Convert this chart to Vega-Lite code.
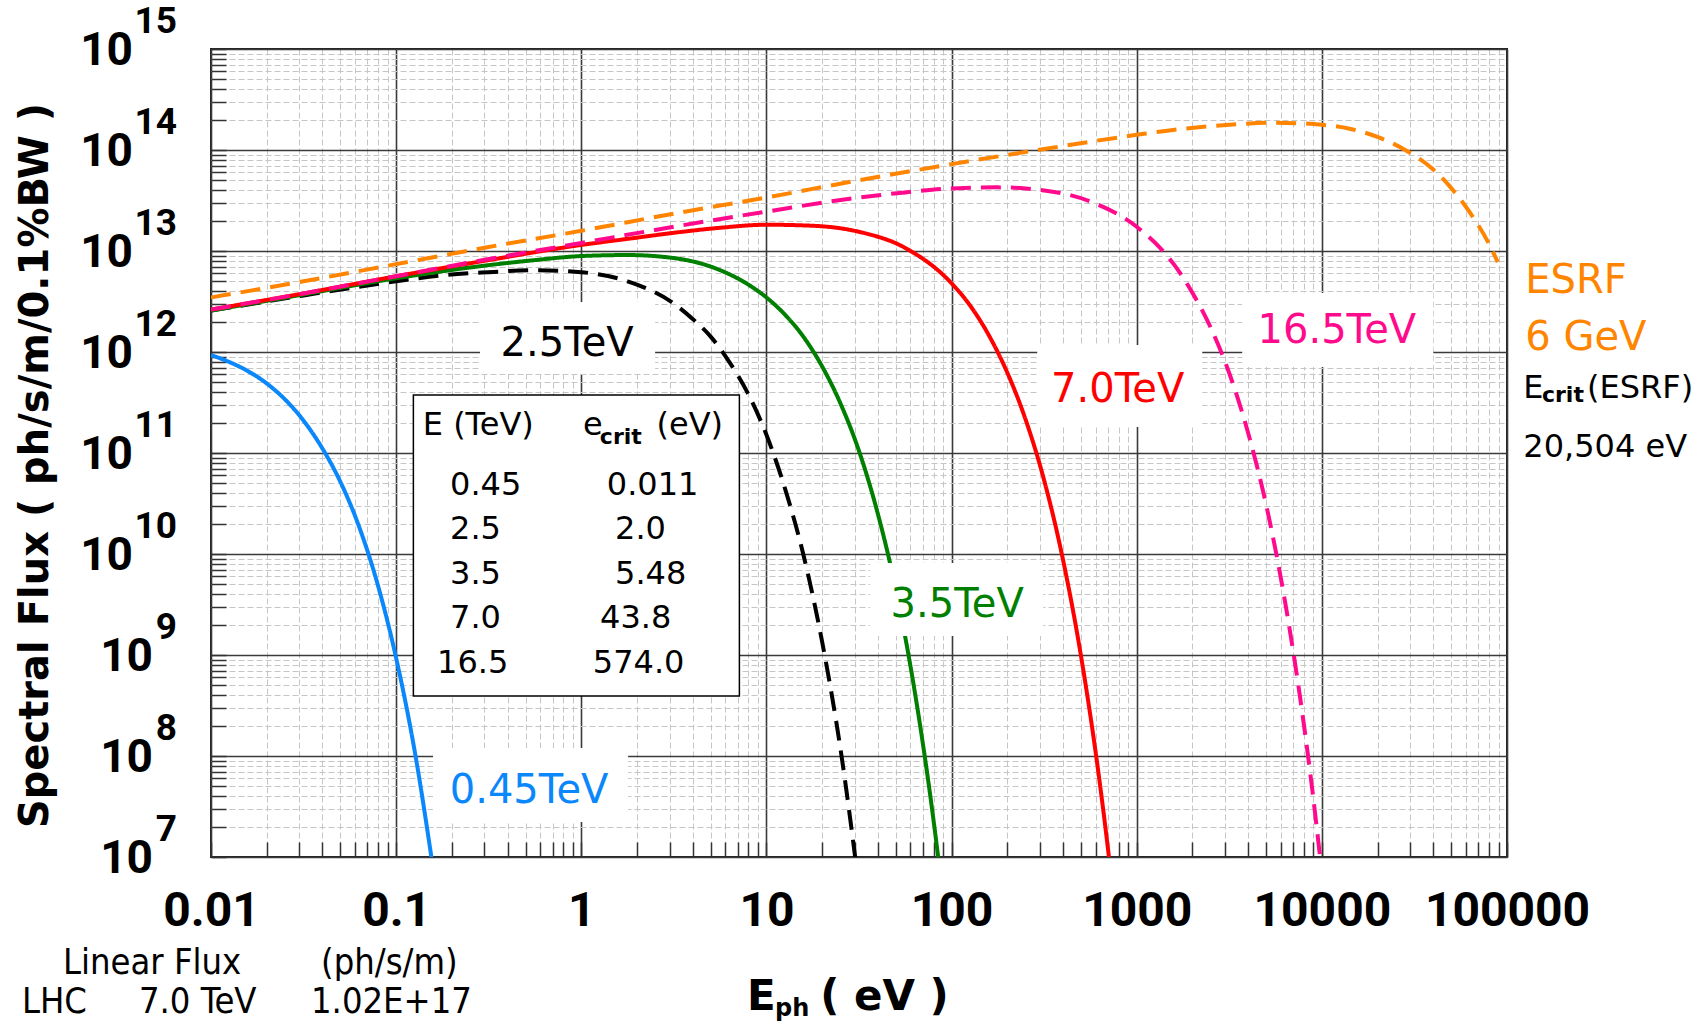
{
  "$schema": "https://vega.github.io/schema/vega-lite/v6.json",
  "width": 1296,
  "height": 808,
  "autosize": {"type": "none"},
  "padding": {"left": 211, "top": 49, "right": 195, "bottom": 166},
  "background": "white",
  "config": {"view": {"stroke": "#222", "strokeWidth": 2}},
  "datasets": {
    "curves": [
      {"series": "2.5TeV", "E": 0.01, "F": 2.57e12},
      {"series": "2.5TeV", "E": 0.03162, "F": 3.631e12},
      {"series": "2.5TeV", "E": 0.1, "F": 5.012e12},
      {"series": "2.5TeV", "E": 0.1778, "F": 5.754e12},
      {"series": "2.5TeV", "E": 0.3162, "F": 6.166e12},
      {"series": "2.5TeV", "E": 0.5623, "F": 6.457e12},
      {"series": "2.5TeV", "E": 1, "F": 6.166e12},
      {"series": "2.5TeV", "E": 1.778, "F": 5.012e12},
      {"series": "2.5TeV", "E": 3.162, "F": 3.02e12},
      {"series": "2.5TeV", "E": 3.981, "F": 2.138e12},
      {"series": "2.5TeV", "E": 5.012, "F": 1.413e12},
      {"series": "2.5TeV", "E": 6.31, "F": 7.943e11},
      {"series": "2.5TeV", "E": 7.943, "F": 3.89e11},
      {"series": "2.5TeV", "E": 10, "F": 1.514e11},
      {"series": "2.5TeV", "E": 12.59, "F": 4.467e10},
      {"series": "2.5TeV", "E": 15.85, "F": 9.772e9},
      {"series": "2.5TeV", "E": 19.95, "F": 1.38e9},
      {"series": "2.5TeV", "E": 25.12, "F": 1.175e8},
      {"series": "2.5TeV", "E": 31.62, "F": 5.012e6},

      {"series": "3.5TeV", "E": 0.01, "F": 2.57e12},
      {"series": "3.5TeV", "E": 0.03162, "F": 3.715e12},
      {"series": "3.5TeV", "E": 0.1, "F": 5.37e12},
      {"series": "3.5TeV", "E": 0.3162, "F": 7.244e12},
      {"series": "3.5TeV", "E": 0.5623, "F": 8.128e12},
      {"series": "3.5TeV", "E": 1, "F": 8.913e12},
      {"series": "3.5TeV", "E": 1.778, "F": 9.12e12},
      {"series": "3.5TeV", "E": 3.162, "F": 8.511e12},
      {"series": "3.5TeV", "E": 5.623, "F": 6.457e12},
      {"series": "3.5TeV", "E": 7.943, "F": 4.677e12},
      {"series": "3.5TeV", "E": 10, "F": 3.467e12},
      {"series": "3.5TeV", "E": 12.59, "F": 2.344e12},
      {"series": "3.5TeV", "E": 15.85, "F": 1.413e12},
      {"series": "3.5TeV", "E": 19.95, "F": 7.244e11},
      {"series": "3.5TeV", "E": 25.12, "F": 3.09e11},
      {"series": "3.5TeV", "E": 31.62, "F": 1.047e11},
      {"series": "3.5TeV", "E": 39.81, "F": 2.57e10},
      {"series": "3.5TeV", "E": 50.12, "F": 4.365e9},
      {"series": "3.5TeV", "E": 63.1, "F": 4.467e8},
      {"series": "3.5TeV", "E": 79.43, "F": 2.512e7},
      {"series": "3.5TeV", "E": 89.13, "F": 4.571e6},

      {"series": "7.0TeV", "E": 0.01, "F": 2.63e12},
      {"series": "7.0TeV", "E": 0.03162, "F": 3.802e12},
      {"series": "7.0TeV", "E": 0.1, "F": 5.623e12},
      {"series": "7.0TeV", "E": 0.3162, "F": 8.128e12},
      {"series": "7.0TeV", "E": 1, "F": 1.148e13},
      {"series": "7.0TeV", "E": 1.778, "F": 1.318e13},
      {"series": "7.0TeV", "E": 3.162, "F": 1.514e13},
      {"series": "7.0TeV", "E": 5.623, "F": 1.698e13},
      {"series": "7.0TeV", "E": 10, "F": 1.82e13},
      {"series": "7.0TeV", "E": 17.78, "F": 1.778e13},
      {"series": "7.0TeV", "E": 31.62, "F": 1.549e13},
      {"series": "7.0TeV", "E": 56.23, "F": 1.072e13},
      {"series": "7.0TeV", "E": 100, "F": 4.786e12},
      {"series": "7.0TeV", "E": 125.9, "F": 2.884e12},
      {"series": "7.0TeV", "E": 158.5, "F": 1.479e12},
      {"series": "7.0TeV", "E": 199.5, "F": 6.31e11},
      {"series": "7.0TeV", "E": 251.2, "F": 2.138e11},
      {"series": "7.0TeV", "E": 316.2, "F": 5.37e10},
      {"series": "7.0TeV", "E": 398.1, "F": 9.12e9},
      {"series": "7.0TeV", "E": 501.2, "F": 9.55e8},
      {"series": "7.0TeV", "E": 631, "F": 5.495e7},
      {"series": "7.0TeV", "E": 707.9, "F": 1.0e7},
      {"series": "7.0TeV", "E": 794.3, "F": 1.479e6},

      {"series": "16.5TeV", "E": 0.01, "F": 2.63e12},
      {"series": "16.5TeV", "E": 0.03162, "F": 3.802e12},
      {"series": "16.5TeV", "E": 0.1, "F": 5.623e12},
      {"series": "16.5TeV", "E": 0.3162, "F": 8.318e12},
      {"series": "16.5TeV", "E": 1, "F": 1.202e13},
      {"series": "16.5TeV", "E": 3.162, "F": 1.738e13},
      {"series": "16.5TeV", "E": 10, "F": 2.455e13},
      {"series": "16.5TeV", "E": 31.62, "F": 3.388e13},
      {"series": "16.5TeV", "E": 56.23, "F": 3.802e13},
      {"series": "16.5TeV", "E": 100, "F": 4.169e13},
      {"series": "16.5TeV", "E": 177.8, "F": 4.266e13},
      {"series": "16.5TeV", "E": 316.2, "F": 3.981e13},
      {"series": "16.5TeV", "E": 562.3, "F": 3.09e13},
      {"series": "16.5TeV", "E": 1000, "F": 1.738e13},
      {"series": "16.5TeV", "E": 1259, "F": 1.202e13},
      {"series": "16.5TeV", "E": 1585, "F": 7.413e12},
      {"series": "16.5TeV", "E": 1995, "F": 3.89e12},
      {"series": "16.5TeV", "E": 2512, "F": 1.738e12},
      {"series": "16.5TeV", "E": 3162, "F": 6.166e11},
      {"series": "16.5TeV", "E": 3981, "F": 1.622e11},
      {"series": "16.5TeV", "E": 5012, "F": 3.02e10},
      {"series": "16.5TeV", "E": 6310, "F": 3.467e9},
      {"series": "16.5TeV", "E": 7943, "F": 2.239e8},
      {"series": "16.5TeV", "E": 8913, "F": 4.365e7},
      {"series": "16.5TeV", "E": 10000, "F": 6.918e6},

      {"series": "0.45TeV", "E": 0.01, "F": 9.333e11},
      {"series": "0.45TeV", "E": 0.01259, "F": 7.943e11},
      {"series": "0.45TeV", "E": 0.01585, "F": 6.457e11},
      {"series": "0.45TeV", "E": 0.01995, "F": 4.898e11},
      {"series": "0.45TeV", "E": 0.02512, "F": 3.388e11},
      {"series": "0.45TeV", "E": 0.03162, "F": 2.089e11},
      {"series": "0.45TeV", "E": 0.03981, "F": 1.122e11},
      {"series": "0.45TeV", "E": 0.05012, "F": 5.129e10},
      {"series": "0.45TeV", "E": 0.0631, "F": 1.862e10},
      {"series": "0.45TeV", "E": 0.07943, "F": 5.012e9},
      {"series": "0.45TeV", "E": 0.1, "F": 9.333e8},
      {"series": "0.45TeV", "E": 0.1259, "F": 1.122e8},
      {"series": "0.45TeV", "E": 0.1585, "F": 7.586e6},

      {"series": "ESRF", "E": 0.01, "F": 3.467e12},
      {"series": "ESRF", "E": 0.03162, "F": 5.012e12},
      {"series": "ESRF", "E": 0.1, "F": 7.413e12},
      {"series": "ESRF", "E": 0.3162, "F": 1.096e13},
      {"series": "ESRF", "E": 1, "F": 1.585e13},
      {"series": "ESRF", "E": 3.162, "F": 2.344e13},
      {"series": "ESRF", "E": 10, "F": 3.388e13},
      {"series": "ESRF", "E": 31.62, "F": 5.012e13},
      {"series": "ESRF", "E": 100, "F": 7.244e13},
      {"series": "ESRF", "E": 316.2, "F": 1.023e14},
      {"series": "ESRF", "E": 1000, "F": 1.413e14},
      {"series": "ESRF", "E": 1778, "F": 1.622e14},
      {"series": "ESRF", "E": 3162, "F": 1.778e14},
      {"series": "ESRF", "E": 5623, "F": 1.862e14},
      {"series": "ESRF", "E": 10000, "F": 1.778e14},
      {"series": "ESRF", "E": 14130, "F": 1.622e14},
      {"series": "ESRF", "E": 19950, "F": 1.349e14},
      {"series": "ESRF", "E": 28180, "F": 1.0e14},
      {"series": "ESRF", "E": 39810, "F": 6.457e13},
      {"series": "ESRF", "E": 50120, "F": 4.169e13},
      {"series": "ESRF", "E": 63100, "F": 2.399e13},
      {"series": "ESRF", "E": 79430, "F": 1.202e13},
      {"series": "ESRF", "E": 89130, "F": 7.762e12}
    ],
    "boxes": [
      {"E": 0.2838, "E2": 2.505, "F": 6.05e11, "F2": 3.126e12},
      {"E": 0.1582, "E2": 1.79, "F": 2.22e7, "F2": 1.2e8},
      {"E": 36.31, "E2": 312.6, "F": 1.542e9, "F2": 8.15e9},
      {"E": 290.1, "E2": 2259, "F": 1.807e11, "F2": 1.172e12},
      {"E": 3715, "E2": 39990, "F": 7.1e11, "F2": 3.837e12}
    ],
    "tablebox": [
      {"E": 0.1239, "E2": 7.145, "F": 3.93e8, "F2": 3.75e11}
    ],
    "labels": [
      {"series": "2.5TeV", "text": "2.5TeV", "E": 0.838, "F": 9.12e11},
      {"series": "0.45TeV", "text": "0.45TeV", "E": 0.5224, "F": 3.4e7},
      {"series": "3.5TeV", "text": "3.5TeV", "E": 107.2, "F": 2.4e9},
      {"series": "7.0TeV", "text": "7.0TeV", "E": 788.9, "F": 3.22e11},
      {"series": "16.5TeV", "text": "16.5TeV", "E": 12050, "F": 1.236e12}
    ],
    "esrf": [
      {"series": "ESRF", "text": "ESRF", "E": 125600, "F": 3.81e12},
      {"series": "ESRF", "text": "6 GeV", "E": 125600, "F": 1.047e12}
    ],
    "notes": [
      {"text": "E (TeV)", "E": 0.1392, "F": 1.507e11},
      {"text": "e", "E": 1.0226, "F": 1.507e11},
      {"text": "(eV)", "E": 2.55, "F": 1.507e11},
      {"text": "0.45", "E": 0.1955, "F": 3.837e10},
      {"text": "0.011", "E": 1.373, "F": 3.837e10},
      {"text": "2.5", "E": 0.1955, "F": 1.4e10},
      {"text": "2.0", "E": 1.522, "F": 1.4e10},
      {"text": "3.5", "E": 0.1955, "F": 5.05e9},
      {"text": "5.48", "E": 1.522, "F": 5.05e9},
      {"text": "7.0", "E": 0.1955, "F": 1.837e9},
      {"text": "43.8", "E": 1.264, "F": 1.837e9},
      {"text": "16.5", "E": 0.1663, "F": 6.577e8},
      {"text": "574.0", "E": 1.154, "F": 6.577e8},
      {"text": "E", "E": 122500, "F": 3.48e11},
      {"text": "(ESRF)", "E": 270400, "F": 3.48e11},
      {"text": "20,504 eV", "E": 122500, "F": 9.19e10}
    ],
    "subs": [
      {"text": "crit", "E": 1.26, "F": 1.227e11},
      {"text": "crit", "E": 154500, "F": 3.2e11}
    ],
    "decades": [
      {"k": 7, "exp": "7", "E": 0.01, "F": 1e7},
      {"k": 8, "exp": "8", "E": 0.01, "F": 1e8},
      {"k": 9, "exp": "9", "E": 0.01, "F": 1e9},
      {"k": 10, "exp": "10", "E": 0.01, "F": 1e10},
      {"k": 11, "exp": "11", "E": 0.01, "F": 1e11},
      {"k": 12, "exp": "12", "E": 0.01, "F": 1e12},
      {"k": 13, "exp": "13", "E": 0.01, "F": 1e13},
      {"k": 14, "exp": "14", "E": 0.01, "F": 1e14},
      {"k": 15, "exp": "15", "E": 0.01, "F": 1e15}
    ],
    "footer": [
      {"text": "Linear Flux", "E": 0.001586, "F": 6.95e5},
      {"text": "(ph/s/m)", "E": 0.03928, "F": 6.95e5},
      {"text": "LHC", "E": 0.0009526, "F": 2.85e5},
      {"text": "7.0 TeV", "E": 0.004083, "F": 2.85e5},
      {"text": "1.02E+17", "E": 0.03469, "F": 2.85e5}
    ],
    "xtitle": [
      {"part": "main", "text": "E", "E": 7.864, "F": 3.05e5},
      {"part": "sub", "text": "ph", "E": 11.14, "F": 2.65e5},
      {"part": "main", "text": "( eV )", "E": 19.5, "F": 3.05e5}
    ]
  },
  "encoding": {
    "x": {
      "field": "E",
      "type": "quantitative",
      "scale": {"type": "log", "domain": [0.01, 100000], "nice": false},
      "axis": {
        "values": [0.01, 0.02, 0.03, 0.04, 0.05, 0.06, 0.07, 0.08, 0.09,
                   0.1, 0.2, 0.3, 0.4, 0.5, 0.6, 0.7, 0.8, 0.9,
                   1, 2, 3, 4, 5, 6, 7, 8, 9,
                   10, 20, 30, 40, 50, 60, 70, 80, 90,
                   100, 200, 300, 400, 500, 600, 700, 800, 900,
                   1000, 2000, 3000, 4000, 5000, 6000, 7000, 8000, 9000,
                   10000, 20000, 30000, 40000, 50000, 60000, 70000, 80000, 90000,
                   100000],
        "title": null,
        "domain": false,
        "grid": true,
        "gridColor": {"condition": {"test": "abs(log(datum.value)/LN10 - round(log(datum.value)/LN10)) < 0.001", "value": "#3a3a3a"}, "value": "#c6c6c6"},
        "gridDash": {"condition": {"test": "abs(log(datum.value)/LN10 - round(log(datum.value)/LN10)) < 0.001", "value": []}, "value": [6, 3]},
        "gridWidth": {"condition": {"test": "abs(log(datum.value)/LN10 - round(log(datum.value)/LN10)) < 0.001", "value": 1.6}, "value": 1},
        "ticks": true,
        "tickSize": -15,
        "tickColor": "#333",
        "tickWidth": 1.5,
        "labelExpr": "abs(log(datum.value)/LN10 - round(log(datum.value)/LN10)) < 0.001 ? format(datum.value, '~f') : ''",
        "labelFont": "Roboto",
        "labelFontWeight": "bold",
        "labelFontSize": 48,
        "labelColor": "#000",
        "labelPadding": 45,
        "labelFlush": false,
        "labelOverlap": false,
        "labelBound": false
      }
    },
    "y": {
      "field": "F",
      "type": "quantitative",
      "scale": {"type": "log", "domain": [1e7, 1e15], "nice": false},
      "axis": {
        "values": [1e7, 2e7, 3e7, 4e7, 5e7, 6e7, 7e7, 8e7, 9e7,
                   1e8, 2e8, 3e8, 4e8, 5e8, 6e8, 7e8, 8e8, 9e8,
                   1e9, 2e9, 3e9, 4e9, 5e9, 6e9, 7e9, 8e9, 9e9,
                   1e10, 2e10, 3e10, 4e10, 5e10, 6e10, 7e10, 8e10, 9e10,
                   1e11, 2e11, 3e11, 4e11, 5e11, 6e11, 7e11, 8e11, 9e11,
                   1e12, 2e12, 3e12, 4e12, 5e12, 6e12, 7e12, 8e12, 9e12,
                   1e13, 2e13, 3e13, 4e13, 5e13, 6e13, 7e13, 8e13, 9e13,
                   1e14, 2e14, 3e14, 4e14, 5e14, 6e14, 7e14, 8e14, 9e14,
                   1e15],
        "title": "Spectral Flux ( ph/s/m/0.1%BW )",
        "titleFont": "DejaVu Sans",
        "titleFontWeight": "bold",
        "titleFontSize": 40,
        "titleColor": "#000",
        "titleAngle": 270,
        "titleAlign": "center",
        "titleBaseline": "alphabetic",
        "titleX": -164,
        "titleY": 416,
        "domain": false,
        "grid": true,
        "gridColor": {"condition": {"test": "abs(log(datum.value)/LN10 - round(log(datum.value)/LN10)) < 0.001", "value": "#3a3a3a"}, "value": "#c6c6c6"},
        "gridDash": {"condition": {"test": "abs(log(datum.value)/LN10 - round(log(datum.value)/LN10)) < 0.001", "value": []}, "value": [6, 3]},
        "gridWidth": {"condition": {"test": "abs(log(datum.value)/LN10 - round(log(datum.value)/LN10)) < 0.001", "value": 1.6}, "value": 1},
        "ticks": true,
        "tickSize": -15,
        "tickColor": "#333",
        "tickWidth": 1.5,
        "labels": false
      }
    }
  },
  "layer": [
    {
      "data": {"name": "curves"},
      "mark": {"type": "line", "strokeWidth": 4, "interpolate": "monotone", "clip": true},
      "encoding": {
        "color": {
          "field": "series", "type": "nominal", "legend": null,
          "scale": {"domain": ["0.45TeV", "2.5TeV", "3.5TeV", "7.0TeV", "16.5TeV", "ESRF"],
                    "range": ["#0A87FA", "#000000", "#007F00", "#FF0000", "#FF0A8C", "#FF8500"]}
        },
        "strokeDash": {
          "field": "series", "type": "nominal", "legend": null,
          "scale": {"domain": ["0.45TeV", "2.5TeV", "3.5TeV", "7.0TeV", "16.5TeV", "ESRF"],
                    "range": [[1, 0], [20, 10], [1, 0], [1, 0], [20, 10], [20, 10]]}
        }
      }
    },
    {
      "data": {"name": "boxes"},
      "mark": {"type": "rect", "fill": "white"},
      "encoding": {"x2": {"field": "E2"}, "y2": {"field": "F2"}}
    },
    {
      "data": {"name": "tablebox"},
      "mark": {"type": "rect", "fill": "white", "stroke": "#000", "strokeWidth": 1.5},
      "encoding": {"x2": {"field": "E2"}, "y2": {"field": "F2"}}
    },
    {
      "data": {"name": "labels"},
      "mark": {"type": "text", "font": "DejaVu Sans", "fontSize": 40, "align": "center", "baseline": "alphabetic"},
      "encoding": {
        "text": {"field": "text"},
        "color": {"field": "series", "type": "nominal", "legend": null}
      }
    },
    {
      "data": {"name": "esrf"},
      "mark": {"type": "text", "font": "DejaVu Sans", "fontSize": 40, "align": "left", "baseline": "alphabetic"},
      "encoding": {
        "text": {"field": "text"},
        "color": {"field": "series", "type": "nominal", "legend": null}
      }
    },
    {
      "data": {"name": "notes"},
      "mark": {"type": "text", "font": "DejaVu Sans", "fontSize": 32, "align": "left", "baseline": "alphabetic", "color": "#000"},
      "encoding": {"text": {"field": "text"}}
    },
    {
      "data": {"name": "subs"},
      "mark": {"type": "text", "font": "DejaVu Sans", "fontWeight": "bold", "fontSize": 22, "align": "left", "baseline": "alphabetic", "color": "#000"},
      "encoding": {"text": {"field": "text"}}
    },
    {
      "data": {"name": "decades"},
      "transform": [{"filter": "datum.k >= 10"}],
      "mark": {"type": "text", "font": "Roboto", "fontWeight": "bold", "fontSize": 46, "align": "right", "baseline": "alphabetic", "dx": -78, "dy": 16, "color": "#000"},
      "encoding": {"text": {"value": "10"}}
    },
    {
      "data": {"name": "decades"},
      "transform": [{"filter": "datum.k < 10"}],
      "mark": {"type": "text", "font": "Roboto", "fontWeight": "bold", "fontSize": 46, "align": "right", "baseline": "alphabetic", "dx": -58, "dy": 16, "color": "#000"},
      "encoding": {"text": {"value": "10"}}
    },
    {
      "data": {"name": "decades"},
      "mark": {"type": "text", "font": "Roboto", "fontWeight": "bold", "fontSize": 37, "align": "right", "baseline": "alphabetic", "dx": -34, "dy": -16, "color": "#000"},
      "encoding": {"text": {"field": "exp"}}
    },
    {
      "data": {"name": "footer"},
      "mark": {"type": "text", "font": "Liberation Sans Narrow, DejaVu Sans Condensed, sans-serif", "fontSize": 36, "align": "left", "baseline": "alphabetic", "color": "#000"},
      "encoding": {"text": {"field": "text"}}
    },
    {
      "data": {"name": "xtitle"},
      "transform": [{"filter": "datum.part == 'main'"}],
      "mark": {"type": "text", "font": "DejaVu Sans", "fontWeight": "bold", "fontSize": 42, "align": "left", "baseline": "alphabetic", "color": "#000"},
      "encoding": {"text": {"field": "text"}}
    },
    {
      "data": {"name": "xtitle"},
      "transform": [{"filter": "datum.part == 'sub'"}],
      "mark": {"type": "text", "font": "DejaVu Sans", "fontWeight": "bold", "fontSize": 24, "align": "left", "baseline": "alphabetic", "color": "#000"},
      "encoding": {"text": {"field": "text"}}
    }
  ]
}
